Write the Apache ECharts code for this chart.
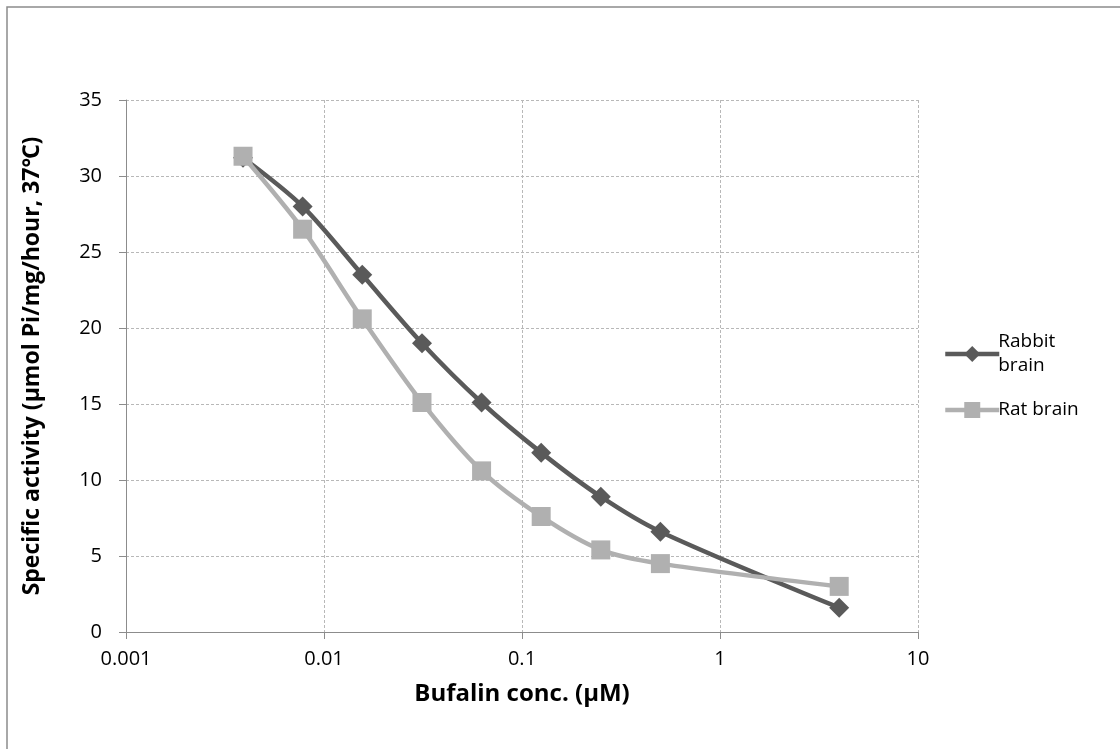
<!DOCTYPE html>
<html>
<head>
<meta charset="utf-8">
<script src="https://cdn.jsdelivr.net/npm/echarts@6/dist/echarts.min.js"></script>
<style>
  html, body { margin: 0; padding: 0; background: #fff; }
  #chart { width: 1120px; height: 749px; }
</style>
</head>
<body>
<div id="chart"></div>
<script>
// bufalin concentrations (uM)
const concRabbit = [0.0039, 0.0078, 0.0156, 0.03125, 0.0625, 0.125, 0.25, 0.5, 4];
const rabbitBrain = [31.2, 28.0, 23.5, 19.0, 15.1, 11.8, 8.9, 6.6, 1.6];
const concRat = [0.0039, 0.0078, 0.0156, 0.03125, 0.0625, 0.125, 0.25, 0.5, 4];
const ratBrain = [31.3, 26.5, 20.6, 15.1, 10.6, 7.6, 5.4, 4.5, 3.0];
const seriesNames = ['Rabbit brain', 'Rat brain'];

const font = 'Open Sans, Noto Sans, sans-serif';
const pair = (xs, ys) => xs.map((x, i) => [x, ys[i]]);

const myChart = echarts.init(document.getElementById('chart'));

const option = {
  backgroundColor: '#fff',
  animation: false,
  graphic: [{
    type: 'rect',
    shape: { x: 7, y: 7, width: 1130, height: 760 },
    style: { fill: 'none', stroke: '#8c8c8c', lineWidth: 1.5 }
  }],
  grid: { left: 126, right: 202, top: 100, bottom: 117 },
  legend: {
    orient: 'vertical',
    left: 938,
    top: 325,
    itemWidth: 54,
    itemHeight: 20,
    itemGap: 20,
    data: seriesNames,
    lineStyle: { width: 4.5 },
    formatter: n => n === 'Rabbit brain' ? 'Rabbit\nbrain' : n,
    textStyle: { fontFamily: font, fontSize: 19, color: '#000', lineHeight: 24, padding: [0, 0, 0, -6] }
  },
  xAxis: {
    type: 'log',
    logBase: 10,
    min: 0.001,
    max: 10,
    name: 'Bufalin conc. (µM)',
    nameLocation: 'middle',
    nameGap: 50,
    nameTextStyle: { fontFamily: font, fontSize: 24, fontWeight: 'bold', color: '#000' },
    axisLine: { lineStyle: { color: '#8c8c8c', width: 1 } },
    axisTick: { show: true, length: 7, lineStyle: { color: '#8c8c8c' } },
    axisLabel: {
      fontFamily: font, fontSize: 20, color: '#000', margin: 17,
      formatter: v => String(+v.toPrecision(3))
    },
    splitLine: { show: true, lineStyle: { color: '#b8b8b8', type: [3, 2], width: 1 } },
    minorTick: { show: false }
  },
  yAxis: {
    type: 'value',
    min: 0,
    max: 35,
    interval: 5,
    name: 'Specific activity (µmol Pi/mg/hour, 37℃)',
    nameLocation: 'middle',
    nameGap: 82,
    nameTextStyle: { fontFamily: font, fontSize: 23, fontWeight: 'bold', color: '#000' },
    axisLine: { show: true, lineStyle: { color: '#8c8c8c', width: 1 } },
    axisTick: { show: true, length: 7, lineStyle: { color: '#8c8c8c' } },
    axisLabel: { fontFamily: font, fontSize: 20, color: '#000', margin: 24 },
    splitLine: { show: true, lineStyle: { color: '#b8b8b8', type: [3, 2], width: 1 } }
  },
  series: [
    {
      name: seriesNames[0],
      type: 'line',
      smooth: 0.3,
      data: pair(concRabbit, rabbitBrain),
      symbol: 'diamond',
      symbolSize: 20,
      z: 2,
      lineStyle: { color: '#5a5a5a', width: 4.5 },
      itemStyle: { color: '#5a5a5a' }
    },
    {
      name: seriesNames[1],
      type: 'line',
      smooth: 0.3,
      data: pair(concRat, ratBrain),
      symbol: 'rect',
      symbolSize: 19,
      z: 3,
      lineStyle: { color: '#b0b0b0', width: 4.5 },
      itemStyle: { color: '#b0b0b0' }
    }
  ]
};

myChart.setOption(option);
</script>
</body>
</html>
